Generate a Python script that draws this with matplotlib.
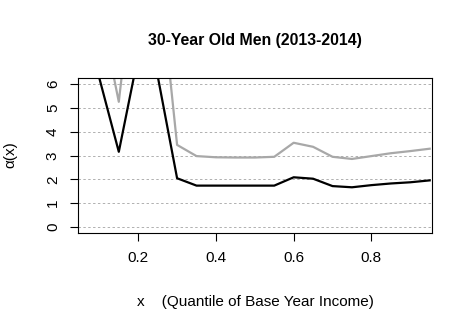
import matplotlib
matplotlib.use("Agg")
import matplotlib.pyplot as plt

plt.rcParams['font.family'] = ['Liberation Sans', 'DejaVu Sans']

# quantiles of base year income
q = [0.05, 0.10, 0.15, 0.20, 0.25, 0.30, 0.35, 0.40, 0.45, 0.50,
     0.55, 0.60, 0.65, 0.70, 0.75, 0.80, 0.85, 0.90, 0.95]
# alpha(x), black and gray series
alpha_black = [9.0, 6.25, 3.16, 7.2, 6.35, 2.05, 1.74, 1.74, 1.74, 1.74,
               1.74, 2.09, 2.03, 1.72, 1.67, 1.76, 1.83, 1.88, 1.96]
alpha_gray = [14.0, 9.3, 5.26, 12.4, 11.3, 3.45, 2.98, 2.93, 2.92, 2.92,
              2.95, 3.54, 3.37, 2.95, 2.86, 2.98, 3.10, 3.19, 3.29]
yticks = [0, 1, 2, 3, 4, 5, 6]
xticks = [0.2, 0.4, 0.6, 0.8]

W, H = 472, 331
fig = plt.figure(figsize=(W / 100, H / 100), dpi=100)
ax = fig.add_axes([78 / W, 1 - 233 / H, (432 - 78) / W, (233 - 78) / H])

for y in yticks:
    ax.axhline(y, color='#b0b0b0', lw=0.7, ls=(0, (2.5, 2.5)), zorder=1)

ax.plot(q, alpha_gray, color='#a8a8a8', lw=1.6, zorder=2)
ax.plot(q, alpha_black, color='black', lw=1.6, zorder=3)

ax.set_xlim(0.045, 0.956)
ax.set_ylim(-0.25, 6.26)
ax.set_xticks(xticks)
ax.set_xticklabels(['0.2', '0.4', '0.6', '0.8'])
ax.set_yticks(yticks)
ax.set_yticklabels([str(v) for v in yticks], rotation=90, va='center')
ax.tick_params(direction='out', length=6, width=0.8, labelsize=11, pad=7)

for s in ax.spines.values():
    s.set_linewidth(0.8)

fig.text(255 / W, 1 - 302 / H, 'x    (Quantile of Base Year Income)',
         fontsize=11, ha='center', va='center')
fig.text(10 / W, 1 - 155 / H, '\u03b1(x)', fontsize=11, rotation=90,
         ha='center', va='center')
fig.text(255 / W, 1 - 41 / H, '30-Year Old Men (2013-2014)', fontsize=11.4,
         fontweight='bold', ha='center', va='center')

fig.savefig('out.png', dpi=100)
